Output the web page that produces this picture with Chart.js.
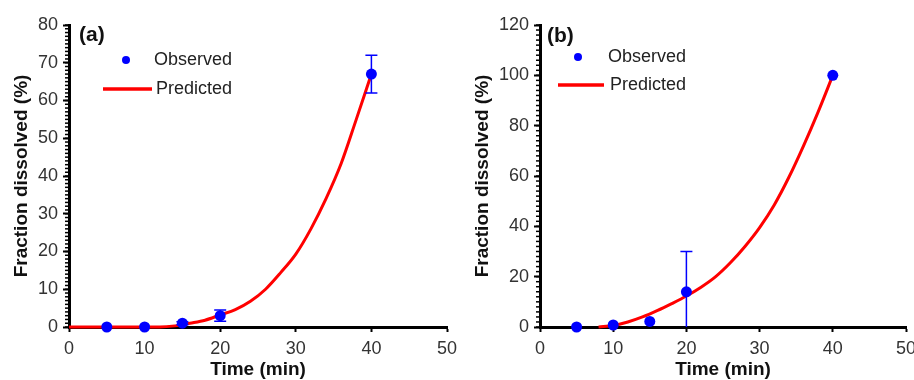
<!DOCTYPE html>
<html>
<head>
<meta charset="utf-8">
<script src="https://cdn.jsdelivr.net/npm/chart.js@4.4.0/dist/chart.umd.min.js"></script>
<style>
html, body { margin: 0; padding: 0; background: #fff; }
#wrap { position: relative; width: 914px; height: 380px; overflow: hidden; }
.panel { position: absolute; top: 0; width: 457px; height: 380px; }
</style>
</head>
<body>
<div id="wrap">
  <div class="panel" style="left:0"><canvas id="chart-a"></canvas></div>
  <div class="panel" style="left:457px"><canvas id="chart-b"></canvas></div>
</div>
<script>
// panel (a)
var obsTimeA = [5, 10, 15, 20, 40];
var obsA = [0, 0, 1, 3, 67];
var errA = [0, 0, 0.4, 1.5, 5];
var predTimeA = [0, 5, 10, 12, 14, 16, 18, 20, 22, 24, 26, 28, 30, 32, 34, 36, 38, 40];
var predA = [0, 0, 0, 0, 0.3, 1, 1.8, 3.2, 4.6, 6.8, 10, 14.4, 19.3, 26, 34, 43.3, 55, 67];

// panel (b)
var obsTimeB = [5, 10, 15, 20, 40];
var obsB = [0, 0.8, 2.2, 14, 100];
var errB = [0, 0, 0, 16, 0];
var predTimeB = [8, 10, 12, 14, 16, 18, 20, 22, 24, 26, 28, 30, 32, 34, 36, 38, 40];
var predB = [0, 0.6, 2, 4, 6.5, 9.3, 12.3, 15.8, 20, 25.5, 32, 39.5, 48.5, 59.5, 72, 85.5, 100];

// tick labels
var xTicks = [0, 10, 20, 30, 40, 50];
var yTicksA = [0, 10, 20, 30, 40, 50, 60, 70, 80];
var yTicksB = [0, 20, 40, 60, 80, 100, 120];

Chart.defaults.font.family = '"Liberation Sans", Arial, sans-serif';

function pairs(xs, ys) {
    return xs.map(function (x, i) { return { x: x, y: ys[i] }; });
}

// error bars, minor ticks, legend and panel letter
var extras = {
    id: 'extras',
    afterDatasetsDraw: function (chart, args, opts) {
        var ctx = chart.ctx, xs = chart.scales.x, ys = chart.scales.y;
        ctx.save();
        ctx.strokeStyle = '#0000ff';
        ctx.lineWidth = 1.5;
        opts.err.forEach(function (e, i) {
            if (!e) return;
            var px = xs.getPixelForValue(opts.times[i]);
            var lo = Math.max(ys.min, opts.values[i] - e);
            var hi = opts.values[i] + e;
            var pLo = ys.getPixelForValue(lo), pHi = ys.getPixelForValue(hi);
            ctx.beginPath();
            ctx.moveTo(px, pLo); ctx.lineTo(px, pHi);
            ctx.moveTo(px - 6, pHi); ctx.lineTo(px + 6, pHi);
            if (lo > ys.min) { ctx.moveTo(px - 6, pLo); ctx.lineTo(px + 6, pLo); }
            ctx.stroke();
        });
        ctx.restore();
    },
    afterDraw: function (chart, args, opts) {
        var ctx = chart.ctx, ys = chart.scales.y, left = chart.chartArea.left;
        ctx.save();
        ctx.strokeStyle = '#000';
        ctx.lineWidth = 1.5;
        for (var v = ys.min; v <= ys.max; v += opts.minorStep) {
            var py = ys.getPixelForValue(v);
            ctx.beginPath();
            ctx.moveTo(left - 4, py); ctx.lineTo(left, py);
            ctx.stroke();
        }
        var L = opts.legend;
        ctx.fillStyle = '#0000ff';
        ctx.beginPath();
        ctx.arc(L.dotX, L.dotY, 4, 0, Math.PI * 2);
        ctx.fill();
        ctx.strokeStyle = '#ff0000';
        ctx.lineWidth = 3.5;
        ctx.beginPath();
        ctx.moveTo(L.lineX1, L.lineY); ctx.lineTo(L.lineX2, L.lineY);
        ctx.stroke();
        ctx.fillStyle = '#222';
        ctx.font = '18px "Liberation Sans", Arial, sans-serif';
        ctx.textBaseline = 'middle';
        ctx.fillText('Observed', L.obsX, L.dotY);
        ctx.fillText('Predicted', L.predX, L.lineY);
        ctx.fillStyle = '#111';
        ctx.font = 'bold 21px "Liberation Sans", Arial, sans-serif';
        ctx.fillText(opts.label, opts.labelX, opts.labelY);
        ctx.restore();
    }
};

function makeChart(id, p) {
    var ctx = document.getElementById(id).getContext('2d');
    return new Chart(ctx, {
        type: 'scatter',
        data: {
            datasets: [{
                label: 'Observed',
                data: pairs(p.obsTime, p.obs),
                backgroundColor: '#0000ff',
                borderWidth: 0,
                pointRadius: 5.5,
                clip: false
            }, {
                label: 'Predicted',
                data: pairs(p.predTime, p.pred),
                showLine: true,
                borderColor: '#ff0000',
                borderWidth: 3,
                pointRadius: 0,
                cubicInterpolationMode: 'monotone',
                clip: false
            }]
        },
        options: {
            responsive: true,
            maintainAspectRatio: false,
            animation: false,
            layout: { padding: { top: 25, right: p.padRight, left: 0, bottom: 0 } },
            plugins: {
                legend: { display: false },
                tooltip: { enabled: false },
                extras: p.extras
            },
            scales: {
                x: {
                    type: 'linear',
                    min: 0,
                    max: 50,
                    afterBuildTicks: function (s) { s.ticks = xTicks.map(function (v) { return { value: v }; }); },
                    afterFit: function (s) { s.height = 53; s.paddingRight = 0; },
                    grid: { drawOnChartArea: false, tickLength: 5, tickWidth: 2, tickColor: '#000' },
                    border: { display: true, color: '#000', width: 3 },
                    ticks: { color: '#333', font: { size: 18 }, padding: 6, maxRotation: 0 },
                    title: {
                        display: true,
                        text: 'Time (min)',
                        color: '#111',
                        font: { size: 19, weight: 'bold' },
                        padding: { top: 0, bottom: -1 }
                    }
                },
                y: {
                    min: 0,
                    max: p.yMax,
                    afterBuildTicks: function (s) { s.ticks = p.yTicks.map(function (v) { return { value: v }; }); },
                    afterFit: function (s) { s.width = p.yWidth; },
                    grid: { drawOnChartArea: false, tickLength: 6, tickWidth: 2, tickColor: '#000' },
                    border: { display: true, color: '#000', width: 3 },
                    ticks: { color: '#333', font: { size: 18 }, padding: 5 },
                    title: {
                        display: true,
                        text: 'Fraction dissolved (%)',
                        color: '#111',
                        font: { size: 19, weight: 'bold' },
                        padding: { top: p.titlePad, bottom: 0 }
                    }
                }
            }
        },
        plugins: [extras]
    });
}

makeChart('chart-a', {
    obsTime: obsTimeA, obs: obsA, predTime: predTimeA, pred: predA,
    yMax: 80, yTicks: yTicksA, yWidth: 69, titlePad: 10, padRight: 10,
    extras: {
        times: obsTimeA, values: obsA, err: errA, minorStep: 1,
        label: '(a)', labelX: 79, labelY: 35,
        legend: { dotX: 126, dotY: 60, obsX: 154, lineX1: 103, lineX2: 152, lineY: 89, predX: 156 }
    }
});

makeChart('chart-b', {
    obsTime: obsTimeB, obs: obsB, predTime: predTimeB, pred: predB,
    yMax: 120, yTicks: yTicksB, yWidth: 83, titlePad: 14, padRight: 8,
    extras: {
        times: obsTimeB, values: obsB, err: errB, minorStep: 2,
        label: '(b)', labelX: 90, labelY: 36,
        legend: { dotX: 121, dotY: 57, obsX: 151, lineX1: 101, lineX2: 147, lineY: 85, predX: 153 }
    }
});
</script>
</body>
</html>
